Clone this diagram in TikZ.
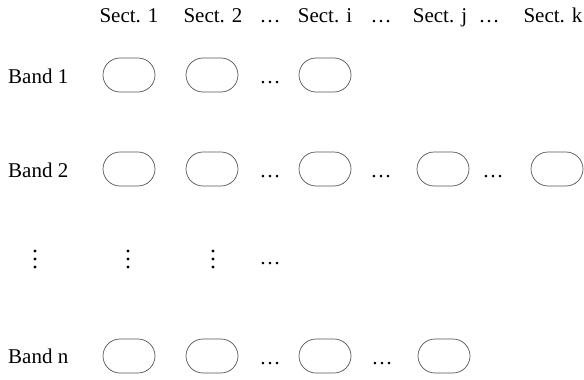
\documentclass[tikz,border=0pt]{standalone}
\usepackage{fontspec}
\setmainfont{Liberation Serif}
\usepackage{tikz}
\usetikzlibrary{positioning}
\usepackage{xcolor}
\definecolor{cellgray}{RGB}{85, 85, 85}
\newcommand\vdotcol[1]{%
  \foreach \dy in {-8,0,8}{\fill ([yshift=\dy pt]#1) circle (1.6pt);}}
\tikzset{
  cell/.style={
    rectangle, rounded corners=17pt,
    draw=cellgray, line width=0.7pt,
    minimum width=52pt, minimum height=34pt, inner sep=0pt
  },
  hdr/.style={
    anchor=base, inner sep=0pt,
    font=\fontsize{21}{25}\selectfont
  },
  band/.style={
    anchor=base west, inner sep=0pt,
    font=\fontsize{21}{25}\selectfont
  },
  gap/.style={
    anchor=base, inner sep=0pt,
    font=\fontsize{21}{25}\selectfont
  },
}

\begin{document}
\begin{tikzpicture}[x=1pt, y=-1pt]
        \useasboundingbox (0,0) rectangle (584,380);
        % section headers
        \node[hdr] (h1) at (129,23)  {Sect. 1};
        \node[hdr] (h2) at (213,23)  {Sect. 2};
        \node[gap] (hg1) at (270,23) {…};
        \node[hdr] (hi) at (325,23)  {Sect. i};
        \node[gap] (hg2) at (381,23) {…};
        \node[hdr] (hj) at (440,23)  {Sect. j};
        \node[gap] (hg3) at (489,23) {…};
        \node[hdr] (hk) at (553,23)  {Sect. k};
        % band 1
        \node[band] (b1) at (8,83) {Band 1};
        \node[cell] (c11) at (129,75) {};
        \node[cell] (c12) at (212,75) {};
        \node[gap]  (g11) at (270,83) {…};
        \node[cell] (c1i) at (325,75) {};
        % band 2
        \node[band] (b2) at (8,177) {Band 2};
        \node[cell] (c21) at (129,169) {};
        \node[cell] (c22) at (212,169) {};
        \node[gap]  (g21) at (270,177) {…};
        \node[cell] (c2i) at (325,169) {};
        \node[gap]  (g22) at (381,177) {…};
        \node[cell] (c2j) at (443,169) {};
        \node[gap]  (g23) at (493,177) {…};
        \node[cell] (c2k) at (557,169) {};
        % vertical dots
        \coordinate (v0) at (35,259);
        \coordinate (v1) at (128,259);
        \coordinate (v2) at (213,259);
        \vdotcol{v0} \vdotcol{v1} \vdotcol{v2}
        \node[gap]  (v3) at (270,264) {…};
        % band n
        \node[band] (bn) at (8,363) {Band n};
        \node[cell] (cn1) at (129,356) {};
        \node[cell] (cn2) at (212,356) {};
        \node[gap]  (gn1) at (270,364) {…};
        \node[cell] (cni) at (325,356) {};
        \node[gap]  (gn2) at (382,364) {…};
        \node[cell] (cnj) at (444,356) {};
      \end{tikzpicture}
\end{document}
